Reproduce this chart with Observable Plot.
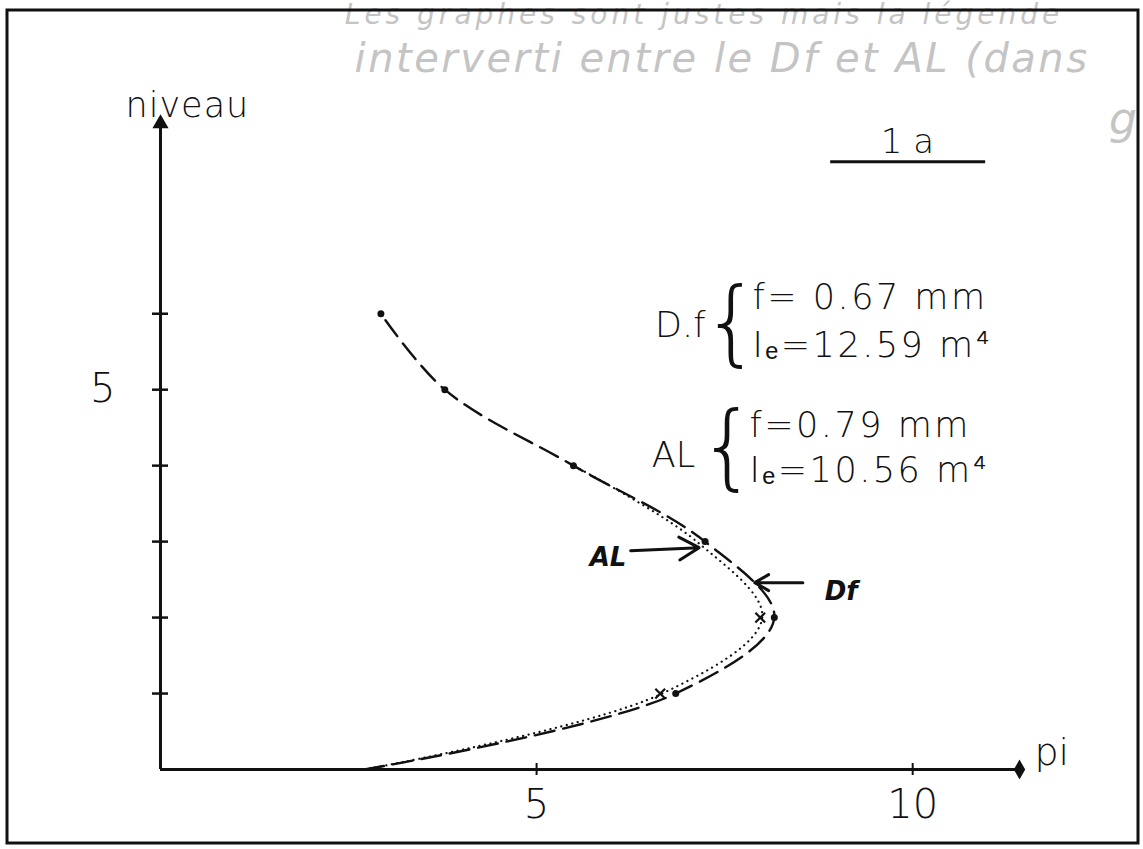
<!DOCTYPE html>
<html>
<head>
<meta charset="utf-8">
<script src="https://cdn.jsdelivr.net/npm/d3@7"></script>
<script src="https://cdn.jsdelivr.net/npm/@observablehq/plot@0.6"></script>
<style>
  html, body { margin: 0; padding: 0; background: #fff; }
</style>
</head>
<body>
<div id="chart"></div>
<script>
// ---- data ----
const dfLevels = [0, 1, 2, 3, 4, 5, 6];
const dfPi     = [2.71, 6.85, 8.16, 7.24, 5.49, 3.78, 2.93];
const dfMarked = [false, true, true, true, true, true, true];

const alLevels = [0, 1, 2, 3, 4];
const alPi     = [2.71, 6.67, 8.0, 7.13, 5.49];
const alMarked = [false, true, true, false, false];

const yTicks  = [1, 2, 3, 4, 5, 6];
const yLabels = [5];
const xTicks  = [5, 10];
const xLabels = [5, 10];

const xMax = 11.46, yMax = 8.57;

// legend / annotation texts
const seriesNames = [
  {x: 6.91, y: 5.84, text: "D.f"},
  {x: 6.82, y: 4.13, text: "AL"}
];
const legendRows = [
  {x: 7.87, y: 6.21, text: "f= 0.67 mm"},
  {x: 7.87, y: 5.58, text: "Iₑ=12.59 m⁴"},
  {x: 7.83, y: 4.53, text: "f=0.79 mm"},
  {x: 7.83, y: 3.93, text: "Iₑ=10.56 m⁴"}
];
const braces = [
  {x: 7.59, y: 5.86, text: "{"},
  {x: 7.54, y: 4.22, text: "{"}
];
const pointers = [
  {label: "AL", tx: 5.95, ty: 2.79, x1: 6.25, y1: 2.88, x2: 7.16, y2: 2.92},
  {label: "Df", tx: 9.05, ty: 2.34, x1: 8.54, y1: 2.46, x2: 7.90, y2: 2.46}
];
const handNotes = [
  {x: 2.45, y: 9.93, text: "Les graphes sont justes mais la légende", size: 28},
  {x: 2.58, y: 9.35, text: "interverti entre le Df et AL (dans", size: 40}
];
const handNotesRight = [{x: 12.98, y: 8.55, text: "g"}];

const df = dfLevels.map((l, i) => ({niveau: l, pi: dfPi[i], marked: dfMarked[i]}));
const al = alLevels.map((l, i) => ({niveau: l, pi: alPi[i], marked: alMarked[i]}));

const font = "'DejaVu Sans', sans-serif";

const plot = Plot.plot({
  width: 1143,
  height: 849,
  marginLeft: 160,
  marginRight: 121,
  marginTop: 118,
  marginBottom: 80,
  x: {domain: [0, xMax], axis: null},
  y: {domain: [0, yMax], axis: null},
  style: {background: "#fff", color: "#111"},
  marks: [
    // handwritten pencil note
    Plot.text(handNotes, {x: "x", y: "y", text: "text", textAnchor: "start", fontSize: "size",
      fontStyle: "italic", fontWeight: 200, fill: "#c4c4c4", fontFamily: font}),
    Plot.text(handNotesRight, {x: "x", y: "y", text: "text", textAnchor: "end", fontSize: 44,
      fontStyle: "italic", fontWeight: 200, fill: "#c4c4c4", fontFamily: font}),
    // axes
    Plot.ruleX([0], {y1: 0, y2: yMax, stroke: "#111", strokeWidth: 3}),
    Plot.ruleY([0], {x1: 0, x2: xMax, stroke: "#111", strokeWidth: 3}),
    Plot.dot([{x: 0, y: yMax}], {x: "x", y: "y", symbol: "triangle", r: 6, fill: "#111", dy: 5}),
    Plot.dot([{x: xMax, y: 0}], {x: "x", y: "y", symbol: "diamond", r: 6, fill: "#111", dx: -3}),
    Plot.axisY(yTicks, {anchor: "left", tickSize: 16, dx: 8, strokeWidth: 2.5, stroke: "#111",
      tickFormat: () => ""}),
    Plot.axisY(yLabels, {anchor: "left", tickSize: 0, tickPadding: 45, fontSize: 40,
      fontWeight: 200, fontFamily: font, fill: "#111", tickFormat: d => String(d)}),
    Plot.axisX(xTicks, {anchor: "bottom", tickSize: 12, dy: -6, strokeWidth: 2, stroke: "#111",
      tickFormat: () => ""}),
    Plot.axisX(xLabels, {anchor: "bottom", tickSize: 0, tickPadding: 20, fontSize: 40,
      fontWeight: 200, fontFamily: font, fill: "#111", tickFormat: d => String(d)}),
    Plot.text(["niveau"], {frameAnchor: "top-left", dx: -35, dy: -26, text: d => d, fontSize: 35,
      fontWeight: 200, fontFamily: font, fill: "#111", textAnchor: "start"}),
    Plot.text(["pi"], {frameAnchor: "bottom-right", dx: 12, dy: -5, text: d => d, fontSize: 38,
      fontWeight: 200, fontFamily: font, fill: "#111", textAnchor: "start"}),
    // "1 a" label with underline
    Plot.text(["1 a"], {x: 9.93, y: 8.26, text: d => d, fontSize: 34, fontWeight: 200,
      fontFamily: font, fill: "#111"}),
    Plot.ruleY([8.0], {x1: 8.91, x2: 10.97, stroke: "#111", strokeWidth: 3}),
    // curves
    Plot.line(al, {x: "pi", y: "niveau", curve: "catmull-rom", stroke: "#111", strokeWidth: 2.2,
      strokeDasharray: "0.1,5.5", strokeLinecap: "round"}),
    Plot.line(df, {x: "pi", y: "niveau", curve: "catmull-rom", stroke: "#111", strokeWidth: 2.4,
      strokeDasharray: "20,9"}),
    Plot.dot(df.filter(d => d.marked), {x: "pi", y: "niveau", r: 3.5, fill: "#111"}),
    Plot.dot(al.filter(d => d.marked), {x: "pi", y: "niveau", symbol: "times", r: 4.5,
      stroke: "#111", strokeWidth: 2.2, dx: -2}),
    // pointers
    Plot.arrow(pointers, {x1: "x1", y1: "y1", x2: "x2", y2: "y2", stroke: "#111", strokeWidth: 3,
      headLength: 14}),
    Plot.text(pointers, {x: "tx", y: "ty", text: "label", fontSize: 26, fontWeight: "bold",
      fontStyle: "italic", fontFamily: font, fill: "#111"}),
    // legend
    Plot.text(seriesNames, {x: "x", y: "y", text: "text", textAnchor: "middle", fontSize: 35,
      fontWeight: 200, fontFamily: font, fill: "#111"}),
    Plot.text(legendRows, {x: "x", y: "y", text: "text", textAnchor: "start", fontSize: 35,
      fontWeight: 200, fontFamily: font, fill: "#111"}),
    Plot.text(braces, {x: "x", y: "y", text: "text", fontSize: 92, fontWeight: 200,
      fontFamily: font, fill: "#111"})
  ]
});

document.getElementById("chart").appendChild(plot);

// letter spacing to mimic the wide stencil lettering
const spacing = new Map([
  ...legendRows.map(r => [r.text, "2.5px"]),
  [handNotes[0].text, "4px"],
  [handNotes[1].text, "2.5px"],
  ["niveau", "1px"]
]);
d3.select(plot).selectAll("text").each(function () {
  const s = spacing.get(this.textContent);
  if (s) this.style.letterSpacing = s;
});

// outer border of the sheet
d3.select(plot).append("rect")
  .attr("x", 7).attr("y", 10).attr("width", 1131).attr("height", 833)
  .attr("fill", "none").attr("stroke", "#111").attr("stroke-width", 3);
</script>
</body>
</html>
